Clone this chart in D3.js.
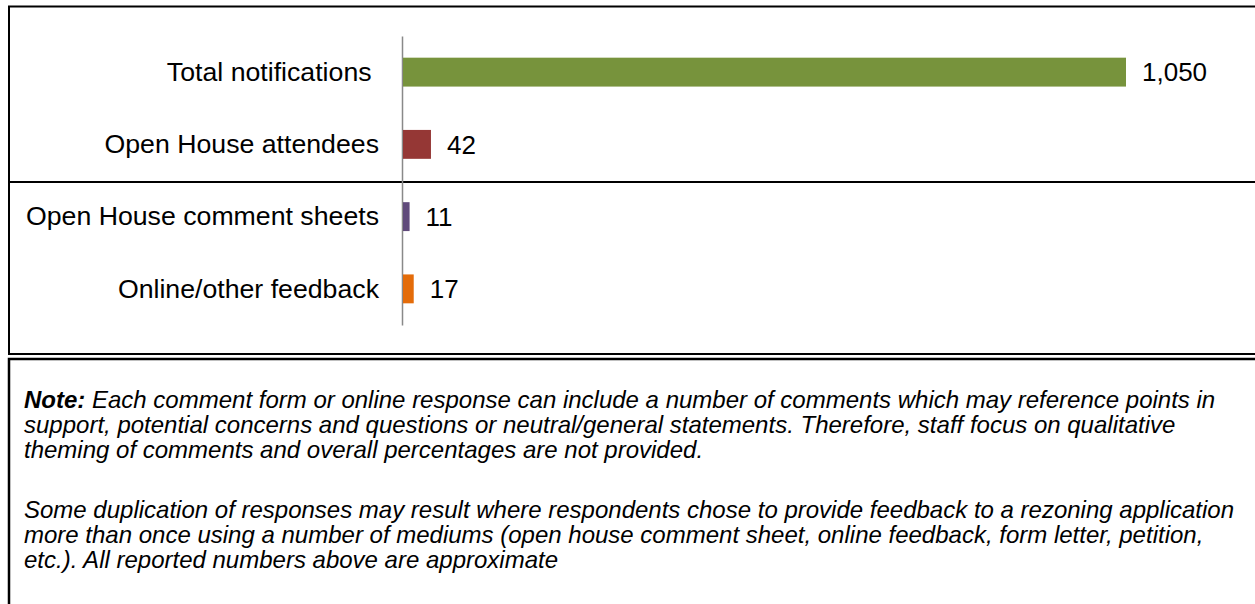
<!DOCTYPE html>
<html>
<head>
<meta charset="utf-8">
<script src="https://cdn.jsdelivr.net/npm/d3@7"></script>
<style>
  body { margin: 0; background: #fff; }
  svg { display: block; font-family: "Liberation Sans", Arial, sans-serif; }
</style>
</head>
<body>
<div class="feedbackChart"></div>
<script>
var categories = ["Total notifications\u00A0", "Open House attendees", "Open House comment sheets", "Online/other feedback"];
var values = [1050, 42, 11, 17];
var barColors = ["#77933C", "#953735", "#604A7B", "#E46C0A"];

var noteLead = "Note:";
var noteLines = [
  " Each comment form or online response can include a number of comments which may reference points in",
  "support, potential concerns and questions or neutral/general statements. Therefore, staff focus on qualitative",
  "theming of comments and overall percentages are not provided."
];
var noteLines2 = [
  "Some duplication of responses may result where respondents chose to provide feedback to a rezoning application",
  "more than once using a number of mediums (open house comment sheet, online feedback, form letter, petition,",
  "etc.). All reported numbers above are approximate"
];

var width = 1255, height = 604;
var data = categories.map(function(c, i) { return {cat: c, val: values[i]}; });

var svg = d3.select(".feedbackChart").append("svg")
  .attr("width", width)
  .attr("height", height);

var x = d3.scaleLinear()
  .domain([0, d3.max(values)])
  .range([402, 1126]);

var y = d3.scaleBand()
  .domain(categories)
  .range([36, 325])
  .paddingInner(0.6)
  .paddingOuter(0.3);

var color = d3.scaleOrdinal()
  .domain(categories)
  .range(barColors);

// frame of the chart box
svg.append("path")
  .attr("d", "M9,355V6.5H1256")
  .attr("fill", "none")
  .attr("stroke", "#000")
  .attr("stroke-width", 2);

svg.append("line")
  .attr("x1", 9).attr("x2", 1256)
  .attr("y1", 182).attr("y2", 182)
  .attr("stroke", "#000")
  .attr("stroke-width", 2);

svg.append("line")
  .attr("x1", 9).attr("x2", 1256)
  .attr("y1", 354).attr("y2", 354)
  .attr("stroke", "#000")
  .attr("stroke-width", 2);

// note box
svg.append("path")
  .attr("d", "M9,605V359H1256")
  .attr("fill", "none")
  .attr("stroke", "#000")
  .attr("stroke-width", 2.5);

var yAxis = d3.axisLeft(y)
  .tickSize(0)
  .tickPadding(23);

var gy = svg.append("g")
  .attr("class", "y axis")
  .attr("transform", "translate(" + x(0) + ",0)")
  .call(yAxis);

gy.select(".domain")
  .attr("stroke", "#898989")
  .attr("stroke-width", 1.5);

gy.selectAll("text")
  .attr("fill", "#000")
  .style("font-size", "26.7px")
  .style("font-family", "'Liberation Sans', Arial, sans-serif")
  .attr("dy", "0.33em");

svg.selectAll(".bar")
  .data(data)
  .enter().append("rect")
  .attr("class", "bar")
  .attr("x", x(0) + 1)
  .attr("y", function(d) { return y(d.cat); })
  .attr("width", function(d) { return x(d.val) - x(0) - 1; })
  .attr("height", y.bandwidth())
  .attr("fill", function(d) { return color(d.cat); });

svg.selectAll(".val")
  .data(data)
  .enter().append("text")
  .attr("class", "val")
  .attr("x", function(d) { return x(d.val) + 16; })
  .attr("y", function(d) { return y(d.cat) + y.bandwidth() / 2; })
  .attr("dy", "0.36em")
  .style("font-size", "26px")
  .text(function(d) { return d3.format(",")(d.val); });

// note text
var note = svg.append("g")
  .attr("class", "note")
  .style("font-size", "24px")
  .style("font-style", "italic");

var first = note.append("text")
  .attr("x", 24)
  .attr("y", 408)
  .attr("xml:space", "preserve");
first.append("tspan")
  .style("font-weight", "bold")
  .text(noteLead);
first.append("tspan")
  .text(noteLines[0]);

note.selectAll(".l1")
  .data(noteLines.slice(1))
  .enter().append("text")
  .attr("class", "l1")
  .attr("x", 24)
  .attr("y", function(d, i) { return 433 + i * 25; })
  .text(function(d) { return d; });

note.selectAll(".l2")
  .data(noteLines2)
  .enter().append("text")
  .attr("class", "l2")
  .attr("x", 24)
  .attr("y", function(d, i) { return 518 + i * 25; })
  .text(function(d) { return d; });
</script>
</body>
</html>
